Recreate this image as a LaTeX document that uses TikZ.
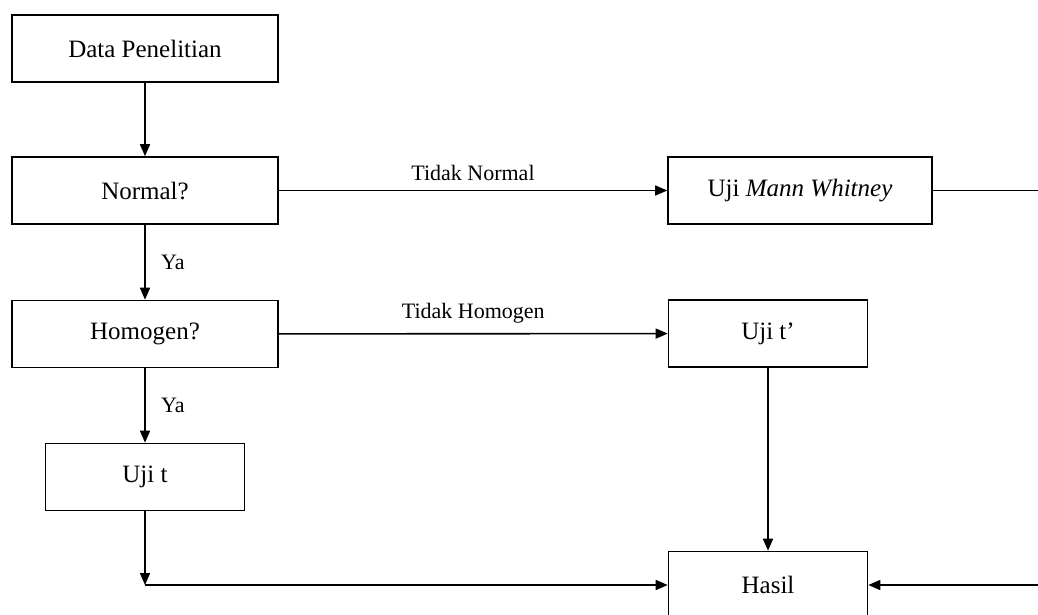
\documentclass[tikz,border=0pt]{standalone}
\usepackage{fontspec}
\setmainfont{Liberation Serif}
\usetikzlibrary{positioning, arrows.meta}

\tikzset{
    stepbox/.style={draw, line width=1.6pt, minimum height=67pt, inner sep=0pt,
        font=\fontsize{25}{30}\selectfont},
    flow/.style={line width=1.6pt, -{Triangle[length=12pt, width=10pt]}},
    lbl/.style={font=\fontsize{22}{26}\selectfont}
}

\begin{document}
\begin{tikzpicture}[x=1pt, y=-1pt]

    \clip (0,0) rectangle (1038,614);

    % ;- left column ;-
    \node[stepbox, minimum width=266pt] (data) at (145,48.5) {Data Penelitian};
    \node[stepbox, minimum width=266pt] (normal) at (145,190.5) {Normal?};
    \node[stepbox, minimum width=266pt] (homogen) at (145,334) {Homogen?};
    \node[stepbox, minimum width=199pt] (ujit) at (145,477) {Uji t};

    % ;- right column ;-
    \node[stepbox, minimum width=264pt] (mann) at (800,190.5) {Uji \textit{Mann Whitney}};
    \node[stepbox, minimum width=199pt] (ujitp) at (768,333.5) {Uji t’};
    \node[stepbox, minimum width=199pt] (hasil) at (768,585) {Hasil};

    % loose ends at the edge and the corner under Uji t
    \coordinate (mwend) at (1038,190.5);
    \coordinate (hsend) at (1038,585);
    \coordinate (corner) at (145,585);

    % ;- connectors ;-
    \draw[flow] (data) -- (normal);
    \draw[flow] (normal) -- (mann)
        node[midway, above=6pt, lbl] {Tidak Normal};
    \draw[flow] (normal) -- (homogen)
        node[midway, right=12pt, lbl] {Ya};
    \draw[flow] (homogen) -- (ujitp)
        node[midway, above=6pt, lbl] {Tidak Homogen};
    \draw[flow] (homogen) -- (ujit)
        node[midway, right=12pt, lbl] {Ya};
    \draw[line width=1.6pt] (mann) -- (mwend);
    \draw[flow] (ujitp) -- (hasil);
    \draw[flow] (ujit) -- (corner);
    \draw[flow] (corner) -- (hasil);
    \draw[flow] (hsend) -- (hasil);

\end{tikzpicture}
\end{document}
